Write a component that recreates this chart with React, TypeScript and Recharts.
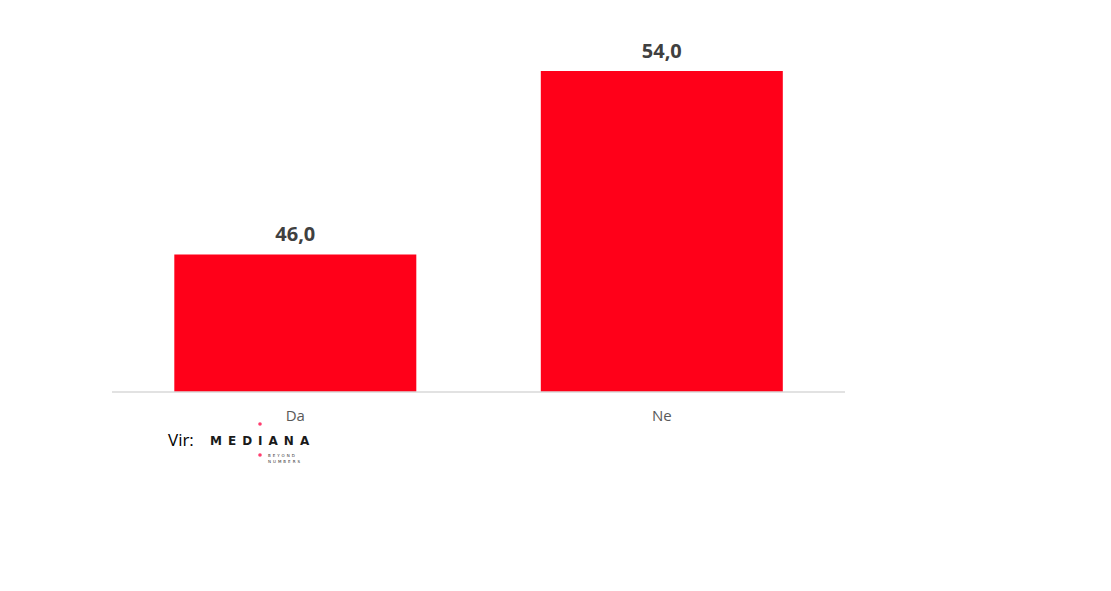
import React from 'react';
import { BarChart, Bar, XAxis, YAxis, LabelList } from 'recharts';

const categories = ['Da', 'Ne'];
const shares = [46.0, 54.0];

const data = categories.map((name, i) => ({ name, value: shares[i] }));

const fmt = (v: any) => Number(v).toFixed(1).replace('.', ',');

const App: React.FC = () => {
  return (
    <div style={{ position: 'absolute', left: 0, top: 0, width: 1111, height: 591, background: '#fff' }}>
      <BarChart
        width={1111}
        height={591}
        data={data}
        margin={{ top: 48, right: 266, left: 112, bottom: 169 }}
        barCategoryGap="17%"
      >
        <XAxis
          dataKey="name"
          axisLine={{ stroke: '#d9d9d9', strokeWidth: 1.5 }}
          tickLine={false}
          tickMargin={12}
          tick={{ fill: '#595959', fontSize: 15, fontFamily: 'Open Sans' }}
        />
        <YAxis hide domain={[40, 55]} />
        <Bar dataKey="value" fill="#ff0019" isAnimationActive={false}>
          <LabelList
            dataKey="value"
            position="top"
            offset={13}
            formatter={fmt}
            style={{ fill: '#404040', fontSize: 20, fontWeight: 700, fontFamily: 'Open Sans' }}
          />
        </Bar>
      </BarChart>
      {/* source line with logo */}
      <svg width={200} height={60} style={{ position: 'absolute', left: 160, top: 415 }}>
        <text x={8} y={31} fontSize={17} fontFamily="Open Sans" fill="#000">Vir:</text>
        <text x={50} y={30} fontSize={12} fontWeight={700} fontFamily="DejaVu Sans" fill="#1a1a1a" letterSpacing={6}>MEDIANA</text>
        <circle cx={100} cy={9} r={1.8} fill="#ff3d6e" />
        <circle cx={100} cy={40} r={1.8} fill="#ff3d6e" />
        <text x={108} y={42} fontSize={4} fontFamily="DejaVu Sans" fill="#333" letterSpacing={2}>BEYOND</text>
        <text x={108} y={48} fontSize={4} fontFamily="DejaVu Sans" fill="#333" letterSpacing={2}>NUMBERS</text>
      </svg>
    </div>
  );
};

export default App;
